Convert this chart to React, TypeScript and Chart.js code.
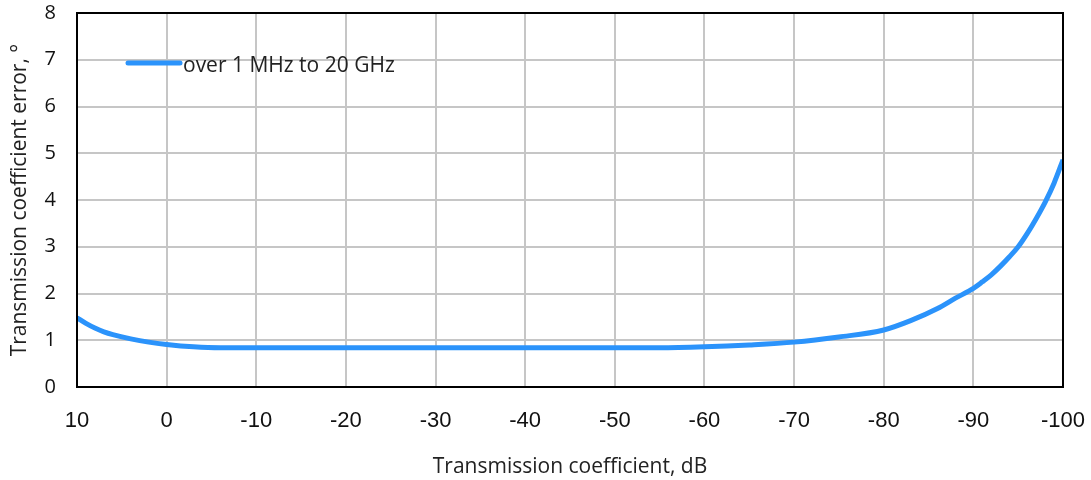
import React, { useEffect, useRef } from "react";
import { Chart, registerables } from "chart.js";

Chart.register(...registerables);

// Transmission coefficient, dB
const coefficientDb: number[] = [
  10, 9, 8, 7, 6, 4, 2, 0, -3, -6, -10, -20, -30, -40, -50, -55, -60, -65, -70,
  -75, -80, -83, -86, -88, -90, -91, -92, -93, -94, -95, -96, -97, -98, -99,
  -100,
];

// Transmission coefficient error, degrees
const phaseErrorDeg: number[] = [
  1.48, 1.36, 1.26, 1.18, 1.12, 1.03, 0.96, 0.91, 0.86, 0.84, 0.84, 0.84, 0.84,
  0.84, 0.84, 0.84, 0.86, 0.9, 0.96, 1.07, 1.22, 1.42, 1.68, 1.9, 2.11, 2.25,
  2.4, 2.58, 2.78, 3.0, 3.28, 3.6, 3.95, 4.36, 4.86,
];

const xTicks: number[] = [10, 0, -10, -20, -30, -40, -50, -60, -70, -80, -90, -100];
const seriesLabel = "over 1 MHz to 20 GHz";
const xTitle = "Transmission coefficient, dB";
const yTitle = "Transmission coefficient error, °";

const LINE_COLOR = "#2b93fb";
const GRID_COLOR = "#c6c6c6";
const SANS = "'Open Sans', 'Noto Sans', sans-serif";

// Frame around the plot area plus the in-plot legend entry
const framePlugin = {
  id: "frameAndLegend",
  afterDraw(chart: any) {
    const { ctx, chartArea } = chart;
    ctx.save();
    ctx.strokeStyle = "#000";
    ctx.lineWidth = 2;
    ctx.strokeRect(
      chartArea.left,
      chartArea.top,
      chartArea.right - chartArea.left,
      chartArea.bottom - chartArea.top
    );
    const ds = chart.data.datasets[0];
    const x0 = chartArea.left + 51;
    const y0 = chartArea.top + 50;
    ctx.strokeStyle = ds.borderColor;
    ctx.lineWidth = 5;
    ctx.lineCap = "round";
    ctx.beginPath();
    ctx.moveTo(x0, y0);
    ctx.lineTo(x0 + 52, y0);
    ctx.stroke();
    ctx.fillStyle = "#222";
    ctx.font = `21px ${SANS}`;
    ctx.textBaseline = "middle";
    ctx.textAlign = "left";
    ctx.fillText(ds.label, x0 + 55, y0 + 3);
    ctx.restore();
  },
};

export default function App() {
  const canvasRef = useRef<HTMLCanvasElement | null>(null);

  useEffect(() => {
    document.body.style.margin = "0";
    const canvas = canvasRef.current;
    if (!canvas) return;
    const chart = new Chart(canvas, {
      type: "line",
      data: {
        datasets: [
          {
            label: seriesLabel,
            data: coefficientDb.map((x, i) => ({ x, y: phaseErrorDeg[i] })),
            borderColor: LINE_COLOR,
            borderWidth: 5,
            pointRadius: 0,
            cubicInterpolationMode: "monotone",
            fill: false,
          },
        ],
      },
      options: {
        responsive: false,
        animation: false,
        layout: { padding: { top: 13, right: 28, left: 0, bottom: 0 } },
        plugins: {
          legend: { display: false },
          tooltip: { enabled: false },
        },
        scales: {
          x: {
            type: "linear",
            min: -100,
            max: 10,
            reverse: true,
            afterBuildTicks: (scale: any) => {
              scale.ticks = xTicks.map((v) => ({ value: v }));
            },
            afterFit: (scale: any) => {
              scale.height = 93;
              scale.paddingLeft = 0;
              scale.paddingRight = 0;
            },
            grid: { color: GRID_COLOR, lineWidth: 2, drawTicks: false },
            border: { display: false },
            ticks: {
              padding: 21,
              color: "#111",
              font: { family: "'Liberation Sans', Arial, sans-serif", size: 22 },
              maxRotation: 0,
              autoSkip: false,
            },
            title: {
              display: true,
              text: xTitle,
              color: "#222",
              font: { family: SANS, size: 21 },
              padding: { top: 0, bottom: 0 },
            },
          },
          y: {
            min: 0,
            max: 8,
            afterFit: (scale: any) => {
              scale.width = 77;
              scale.paddingTop = 0;
              scale.paddingBottom = 0;
            },
            grid: { color: GRID_COLOR, lineWidth: 2, drawTicks: false },
            border: { display: false },
            ticks: {
              stepSize: 1,
              padding: 21,
              color: "#111",
              font: { family: SANS, size: 20 },
            },
            title: {
              display: true,
              text: yTitle,
              color: "#222",
              font: { family: SANS, size: 21 },
              padding: { top: 7, bottom: 0 },
            },
          },
        },
      },
      plugins: [framePlugin],
    });
    return () => chart.destroy();
  }, []);

  return <canvas ref={canvasRef} width={1091} height={480} />;
}
